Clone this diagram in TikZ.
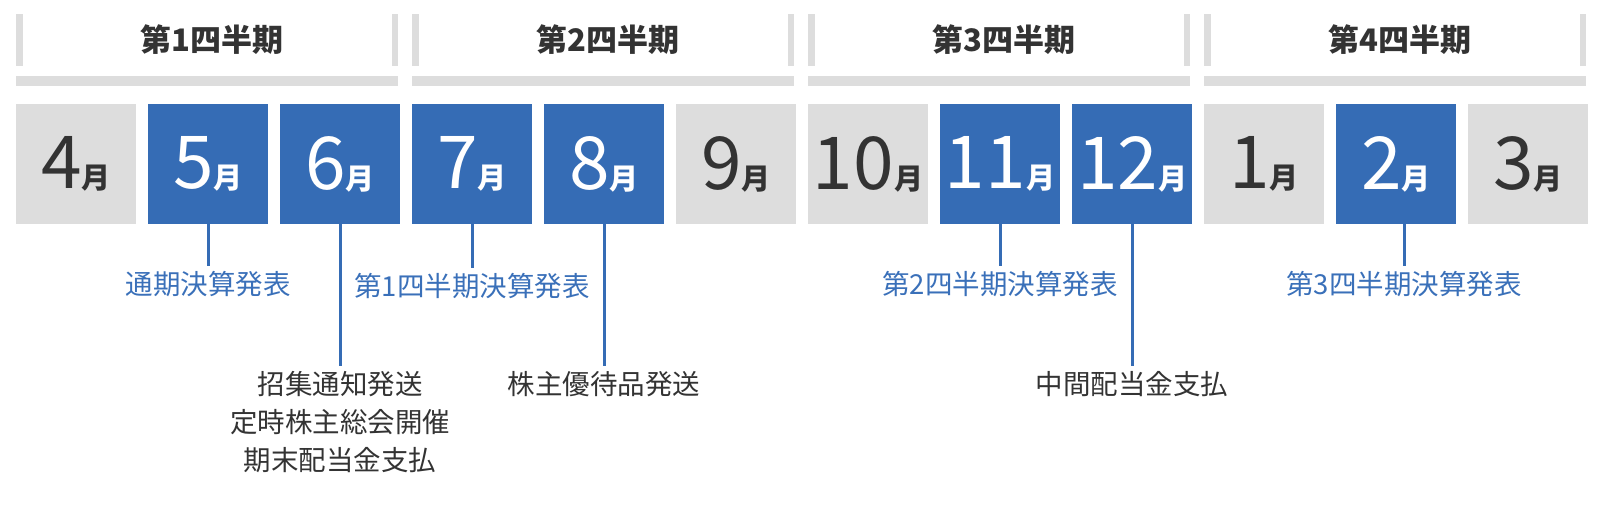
\documentclass[tikz,border=0pt]{standalone}
\usepackage{fontspec}
\setmainfont{Noto Sans CJK JP}
\usetikzlibrary{positioning}
\definecolor{kblue}{HTML}{356CB5}
\definecolor{kgray}{HTML}{DDDDDD}
\definecolor{ktext}{HTML}{333333}
\definecolor{klabel}{HTML}{3A70B9}
\newcommand{\tsuki}{{\fontsize{29}{29}\selectfont\bfseries 月}}
\begin{document}
\begin{tikzpicture}[x=1pt,y=-1pt,
	monthbox/.style={minimum width=120pt,minimum height=120pt,inner sep=0pt,outer sep=0pt,font=\fontsize{73}{73}\selectfont},
	greymonth/.style={monthbox,fill=kgray,text=ktext},
	bluemonth/.style={monthbox,fill=kblue,text=white},
	qtitle/.style={font=\fontsize{31}{31}\selectfont\bfseries,text=ktext},
	evline/.style={draw=kblue,line width=3pt},
	bluetext/.style={font=\fontsize{27.5}{27.5}\selectfont,text=klabel,inner sep=5pt,outer sep=0pt},
	darktext/.style={font=\fontsize{27.5}{38}\selectfont,text=ktext,align=center,inner sep=5pt,outer sep=0pt}]
	\useasboundingbox (0,0) rectangle (1600,520);
	% quarters
	\foreach \q in {1,...,4}{
		\fill[kgray] ({16+396*(\q-1)},14) rectangle +(7,52);
		\fill[kgray] ({16+396*(\q-1)+376},14) rectangle +(6,52);
		\fill[kgray] ({16+396*(\q-1)},76) rectangle +(382,10);
		\node[qtitle] (q\q) at ({16+396*(\q-1)+196},40) {第{\q}四半期};
	}
	% months
	\foreach \m/\s [count=\i from 0] in {4/greymonth,5/bluemonth,6/bluemonth,7/bluemonth,8/bluemonth,9/greymonth,10/greymonth,11/bluemonth,12/bluemonth,1/greymonth,2/bluemonth,3/greymonth}
		\node[\s] (m\m) at ({76+132*\i},164) {\m\tsuki};
	% events
	\node[bluetext,below=42pt of m5] (e5) {通期決算発表};
	\node[darktext,below=142pt of m6] (e6) {招集通知発送\\定時株主総会開催\\期末配当金支払};
	\node[bluetext,below=44pt of m7] (e7) {第1四半期決算発表};
	\node[darktext,below=142pt of m8] (e8) {株主優待品発送};
	\node[bluetext,below=42pt of m11] (e11) {第2四半期決算発表};
	\node[darktext,below=142pt of m12] (e12) {中間配当金支払};
	\node[bluetext,below=42pt of m2,xshift=8pt] (e2) {第3四半期決算発表};
	\draw[evline] (m5.south) -- (e5.north);
	\draw[evline] (m6.south) -- (e6.north);
	\draw[evline] (m7.south) -- (e7.north);
	\draw[evline] (m8.south) -- (e8.north);
	\draw[evline] (m11.south) -- (e11.north);
	\draw[evline] (m12.south) -- (e12.north);
	\draw[evline] (m2.south -| e2.north) -- (e2.north);
\end{tikzpicture}
\end{document}
